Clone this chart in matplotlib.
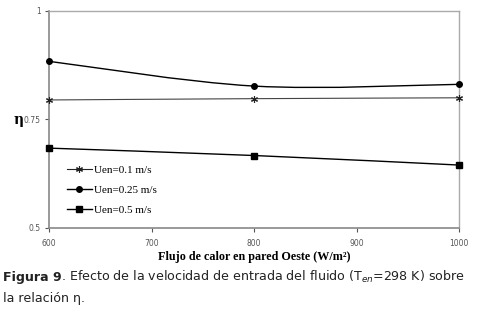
import numpy as np
import matplotlib
matplotlib.use("Agg")
import matplotlib.pyplot as plt
from matplotlib.path import Path
from matplotlib.patches import PathPatch
from matplotlib.lines import Line2D

# data
flujo = [600, 800, 1000]
eta_01 = [0.795, 0.798, 0.800]
eta_025 = [0.884, 0.827, 0.831]
eta_05 = [0.684, 0.667, 0.645]
labels = ["Uen=0.1 m/s", "Uen=0.25 m/s", "Uen=0.5 m/s"]
xticks = [600, 700, 800, 900, 1000]
yticks = [0.5, 0.75, 1.0]
ytick_labels = ["0.5", "0.75", "1"]


def smooth_path(x, y):
    # Excel-like smoothed line: cubic Bezier segments through the points
    pts = np.column_stack([x, y]).astype(float)
    ext = np.vstack([pts[0], pts, pts[-1]])
    verts = [tuple(pts[0])]
    codes = [Path.MOVETO]
    for i in range(len(pts) - 1):
        p0, p1, p2, p3 = ext[i], ext[i + 1], ext[i + 2], ext[i + 3]
        c1 = p1 + (p2 - p0) / 6.0
        c2 = p2 - (p3 - p1) / 6.0
        verts += [tuple(c1), tuple(c2), tuple(p2)]
        codes += [Path.CURVE4] * 3
    return Path(verts, codes)


star = (6, 2, 0)

fig = plt.figure(figsize=(4.79, 3.17), dpi=100)
ax = fig.add_axes([0.1023, 0.2808, 0.8560, 0.6845])

# series
ax.add_patch(PathPatch(smooth_path(flujo, eta_01), fill=False, color="#444444", lw=0.8))
ax.plot(flujo, eta_01, ls="none", marker=star, ms=5, mew=0.8, color="#222222",
        clip_on=False, zorder=5)

ax.add_patch(PathPatch(smooth_path(flujo, eta_025), fill=False, color="black", lw=1.0))
ax.plot(flujo, eta_025, ls="none", marker="o", ms=4, color="black", clip_on=False, zorder=5)

ax.add_patch(PathPatch(smooth_path(flujo, eta_05), fill=False, color="black", lw=1.0))
ax.plot(flujo, eta_05, ls="none", marker="s", ms=4.2, color="black", clip_on=False, zorder=5)

ax.set_xlim(600, 1000)
ax.set_ylim(0.5, 1.0)
ax.set_xticks(xticks)
ax.set_yticks(yticks)
ax.set_yticklabels(ytick_labels)
ax.tick_params(labelsize=5.5, colors="#555555", length=3, width=0.8, pad=3)
ax.tick_params(axis="x", pad=5)

for side in ["left", "bottom"]:
    ax.spines[side].set_color("#888888")
    ax.spines[side].set_linewidth(1.2)
for side in ["top", "right"]:
    ax.spines[side].set_color("#aaaaaa")
    ax.spines[side].set_linewidth(1.0)

ax.set_xlabel("Flujo de calor en pared Oeste (W/m²)", family="Liberation Serif",
              fontweight="bold", fontsize=8.7, labelpad=2)
fig.text(0.038, 0.62, "η", family="DejaVu Serif", fontweight="bold", fontsize=10,
         ha="center", va="center")

handles = [
    Line2D([], [], color="#222222", lw=0.8, marker=star, ms=5, mew=0.8),
    Line2D([], [], color="black", lw=1.0, marker="o", ms=4),
    Line2D([], [], color="black", lw=1.0, marker="s", ms=4.2),
]
ax.legend(handles, labels, loc="upper left", bbox_to_anchor=(0.02, 0.335),
          frameon=False, prop={"family": "Liberation Serif", "size": 8},
          handlelength=2.2, handletextpad=0.2, labelspacing=0.9)

# caption: bold "Figura 9" followed by regular text
cap_size = 9.1
cap_color = "#222222"
t1 = fig.text(0.006, 0.125, "Figura 9", family="DejaVu Sans", fontweight="bold",
              fontsize=cap_size, va="center", color=cap_color)
fig.canvas.draw()
bb = t1.get_window_extent()
x_next = fig.transFigure.inverted().transform((bb.x1, bb.y0))[0]
fig.text(x_next, 0.125, ". Efecto de la velocidad de entrada del fluido (T$_{en}$=298 K) sobre",
         family="DejaVu Sans", fontsize=cap_size, va="center", color=cap_color)
fig.text(0.006, 0.058, "la relación η.", family="DejaVu Sans", fontsize=cap_size,
         va="center", color=cap_color)

fig.savefig("out.png", dpi=100)
